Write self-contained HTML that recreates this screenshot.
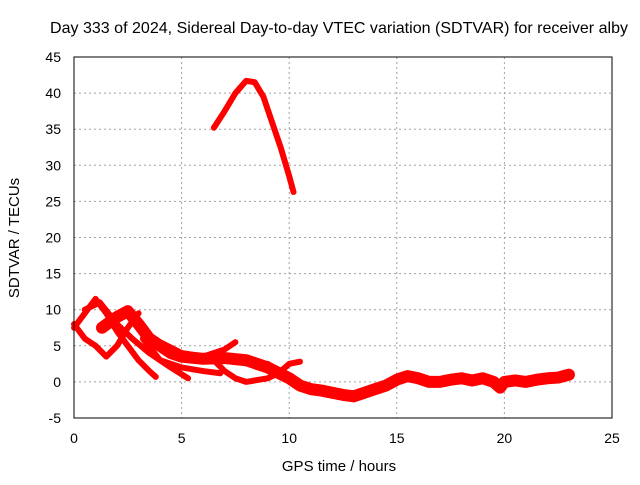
<!DOCTYPE html>
<html><head><meta charset="utf-8"><style>
body{margin:0;background:#fff;}
svg text{font-family:"Liberation Sans",sans-serif;font-size:14px;fill:#000;}
</style></head><body>
<svg id="chart" width="640" height="480">
<text x="339" y="33" text-anchor="middle" style="font-size:16px" textLength="578">Day 333 of 2024, Sidereal Day-to-day VTEC variation (SDTVAR) for receiver alby</text>
<text x="339" y="471" text-anchor="middle" style="font-size:15px">GPS time / hours</text>
<text transform="translate(19,238) rotate(-90)" text-anchor="middle" style="font-size:15px">SDTVAR / TECUs</text>
<g id="grid"></g><g id="marks"></g>
<rect x="74" y="57" width="538" height="361" fill="none" stroke="#000" stroke-width="1"/>
</svg>
<script>
const xTicks=[0,5,10,15,20,25];
const yTicks=[-5,0,5,10,15,20,25,30,35,40,45];
const arcH=[6.5,7,7.5,8,8.4,8.8,9.2,9.6,10,10.2];
const arcV=[35.2,37.5,40,41.7,41.5,39.5,36,32.5,28.5,26.3];
const mainH=[1.3,2,2.5,3,3.5,4,4.5,5,6,7,8,9,10,10.5,11,11.5,12,12.5,13,13.5,14,14.5,15,15.5,16,16.5,17,17.5,18,18.5,19,19.5,19.8,20,20.5,21,21.5,22,22.5,23];
const mainV=[7.5,9,9.8,8,6,5,4,3.5,3.2,3.3,3,2,0.5,-0.5,-1,-1.2,-1.5,-1.8,-2,-1.5,-1,-0.5,0.3,0.8,0.5,0,0,0.3,0.5,0.2,0.5,0,-0.8,0,0.2,0,0.3,0.5,0.6,1];
const s2H=[0,0.5,1,1.5,2,2.5,3,3.5,3.8];
const s2V=[7.5,9.5,11.5,9.5,7,5,3,1.5,0.7];
const s3H=[0,0.5,1,1.5,2,2.5,3];
const s3V=[8,6,5,3.5,5,7.5,9.5];
const s5H=[0.5,1.2,2,2.7,3.5,4.5,5.3];
const s5V=[10,11,8,6,4,2,0.5];
const s6H=[3,4,5,6,7,7.5];
const s6V=[7.5,5.5,4,3.5,4.5,5.5];
const s7H=[3.2,4,5,6,6.8];
const s7V=[6,3,2,1.5,1.2];
const s8H=[6.5,7,7.5,8,9,9.5,10,10.5];
const s8V=[3,1.5,0.5,0,0.5,1.2,2.5,2.8];
const s9H=[9,9.5,10,10.5];
const s9V=[2.5,1.5,0.3,-0.5];
const X=h=>74+h*538/25, Y=v=>418-(v+5)*361/50;
const ns="http://www.w3.org/2000/svg";
const grid=document.getElementById('grid'), marks=document.getElementById('marks');
xTicks.forEach(t=>{
 const l=document.createElementNS(ns,'line');
 l.setAttribute('x1',X(t));l.setAttribute('x2',X(t));l.setAttribute('y1',57);l.setAttribute('y2',418);
 l.setAttribute('stroke',t>0&&t<25?'#a0a0a0':'none');l.setAttribute('stroke-dasharray','2,3');
 
 
 grid.appendChild(l);
 const tx=document.createElementNS(ns,'text');
 tx.setAttribute('x',X(t));tx.setAttribute('y',443);tx.setAttribute('text-anchor','middle');tx.textContent=t;
 
 
 grid.appendChild(tx);
});
yTicks.forEach(t=>{
 const l=document.createElementNS(ns,'line');
 l.setAttribute('x1',74);l.setAttribute('x2',612);l.setAttribute('y1',Y(t));l.setAttribute('y2',Y(t));
 l.setAttribute('stroke',t>-5&&t<45?'#a0a0a0':'none');l.setAttribute('stroke-dasharray','2,3');
 
 
 grid.appendChild(l);
 const tx=document.createElementNS(ns,'text');
 tx.setAttribute('x',61);tx.setAttribute('y',Y(t)+5);tx.setAttribute('text-anchor','end');tx.textContent=t;
 
 
 grid.appendChild(tx);
});
function draw(hs,vs,w,name){
 const p=document.createElementNS(ns,'polyline');
 p.setAttribute('points',hs.map((h,i)=>X(h)+','+Y(vs[i])).join(' '));
 p.setAttribute('fill','none');p.setAttribute('stroke','#ff0000');p.setAttribute('stroke-width',w);
 p.setAttribute('stroke-linejoin','round');p.setAttribute('stroke-linecap','round');
 
 
 marks.appendChild(p);
}
draw(arcH,arcV,6,'series-arc');
draw(mainH,mainV,12,'series-main');
draw(s2H,s2V,6,'series-2');
draw(s3H,s3V,6,'series-3');
draw(s5H,s5V,6,'series-5');
draw(s6H,s6V,6,'series-6');
draw(s7H,s7V,6,'series-7');
draw(s8H,s8V,6,'series-8');
draw(s9H,s9V,6,'series-9');
</script>
</body></html>
